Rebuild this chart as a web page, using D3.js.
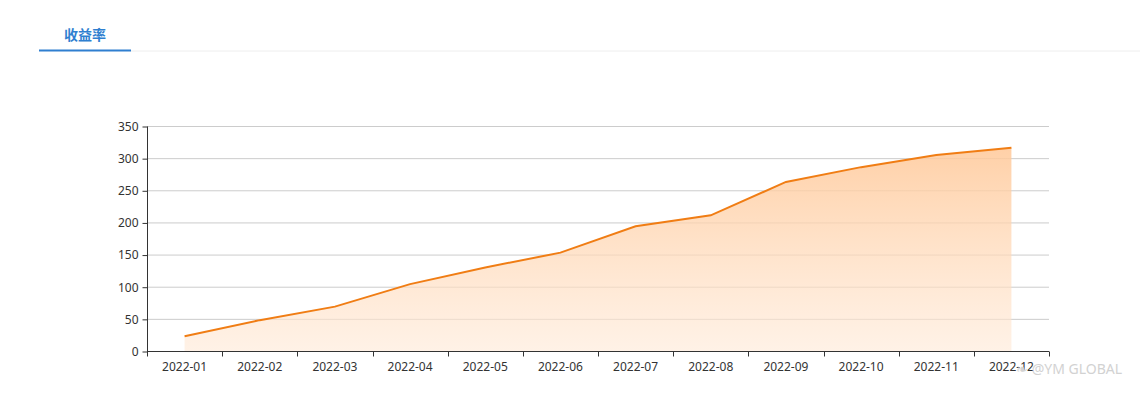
<!DOCTYPE html>
<html>
<head>
  <meta charset="utf-8">
  <title>收益率</title>
  <script src="https://d3js.org/d3.v7.min.js"></script>
  <style>
    body { margin: 0; background: #fff; }
    text { font-family: "Noto Sans", "Noto Sans CJK SC", sans-serif; }
  </style>
</head>
<body>
<svg width="1140" height="397"></svg>
<script>
  // data
  const months = ["2022-01", "2022-02", "2022-03", "2022-04", "2022-05", "2022-06",
                  "2022-07", "2022-08", "2022-09", "2022-10", "2022-11", "2022-12"];
  const returns = [23, 48, 69, 104, 130, 153, 194, 211, 263, 286, 305, 316];
  const yTicks = [0, 50, 100, 150, 200, 250, 300, 350];

  const svg = d3.select("svg");

  // tab header
  svg.append("line").attr("x1", 131).attr("x2", 1140).attr("y1", 51).attr("y2", 51)
    .style("stroke", "#eeeeee").style("stroke-width", 1);
  svg.append("line").attr("x1", 39).attr("x2", 131).attr("y1", 50.5).attr("y2", 50.5)
    .style("stroke", "#2f7fd0").style("stroke-width", 2);
  svg.append("text").attr("x", 85).attr("y", 40).attr("text-anchor", "middle")
    .style("font-family", "'Noto Sans CJK SC', sans-serif")
    .style("font-size", "14px").style("font-weight", "bold").style("fill", "#2f7fd0")
    .text("收益率");

  const margin = { left: 147, right: 1049, top: 126, bottom: 351 };

  const x = d3.scaleBand().domain(months).range([margin.left, margin.right]);
  const y = d3.scaleLinear().domain([0, 350]).range([margin.bottom, margin.top]);

  // gradient for the area
  const grad = svg.append("defs").append("linearGradient")
    .attr("id", "fill").attr("x1", 0).attr("y1", 0).attr("x2", 0).attr("y2", 1);
  grad.append("stop").attr("offset", "0%").attr("stop-color", "#ffc898").attr("stop-opacity", 0.85);
  grad.append("stop").attr("offset", "100%").attr("stop-color", "#ffe9d6").attr("stop-opacity", 0.6);

  // grid lines
  svg.append("g").selectAll("line").data(yTicks.filter(d => d > 0)).enter().append("line")
    .attr("x1", margin.left).attr("x2", margin.right)
    .attr("y1", d => y(d) + 0.5).attr("y2", d => y(d) + 0.5)
    .style("stroke", "#cccccc").style("stroke-width", 1);

  const cx = d => x(d) + x.bandwidth() / 2;

  const area = d3.area()
    .x((d, i) => cx(months[i]))
    .y0(y(0))
    .y1(d => y(d));
  const line = d3.line()
    .x((d, i) => cx(months[i]))
    .y(d => y(d));

  svg.append("path").datum(returns).attr("d", area).style("fill", "url(#fill)");
  svg.append("path").datum(returns).attr("d", line)
    .style("fill", "none").style("stroke", "#f07d14").style("stroke-width", 2);

  // axes
  const yAxis = d3.axisLeft(y).tickValues(yTicks).tickSize(5).tickPadding(4);
  const gy = svg.append("g").attr("transform", `translate(${margin.left + 0.5},0.5)`).call(yAxis);
  gy.select(".domain").attr("d", `M-0,${margin.top}V${margin.bottom}`).style("stroke", "#333");

  const gx = svg.append("g").attr("transform", `translate(0,${margin.bottom + 0.5})`);
  gx.append("line").attr("x1", margin.left).attr("x2", margin.right)
    .style("stroke", "#333");
  const bounds = months.map(m => x(m)).concat([margin.right]);
  gx.selectAll(".tk").data(bounds).enter().append("line")
    .attr("x1", d => Math.round(d) + 0.5).attr("x2", d => Math.round(d) + 0.5)
    .attr("y1", 0).attr("y2", 5).style("stroke", "#333");
  gx.selectAll(".lb").data(months).enter().append("text")
    .attr("x", d => cx(d)).attr("y", 19).attr("text-anchor", "middle")
    .style("font-size", "12px").style("fill", "#333").text(d => d);

  gy.selectAll("text").style("font-size", "12px").style("fill", "#333")
    .style("font-family", "'Noto Sans', sans-serif");
  gy.selectAll(".tick line").style("stroke", "#333");

  // watermark
  svg.append("text").attr("x", 1016).attr("y", 374)
    .style("font-size", "14px").style("fill", "#d2d2d2").style("font-family", "'Noto Sans', sans-serif")
    .text("\u2767 @YM GLOBAL");
</script>
</body>
</html>
